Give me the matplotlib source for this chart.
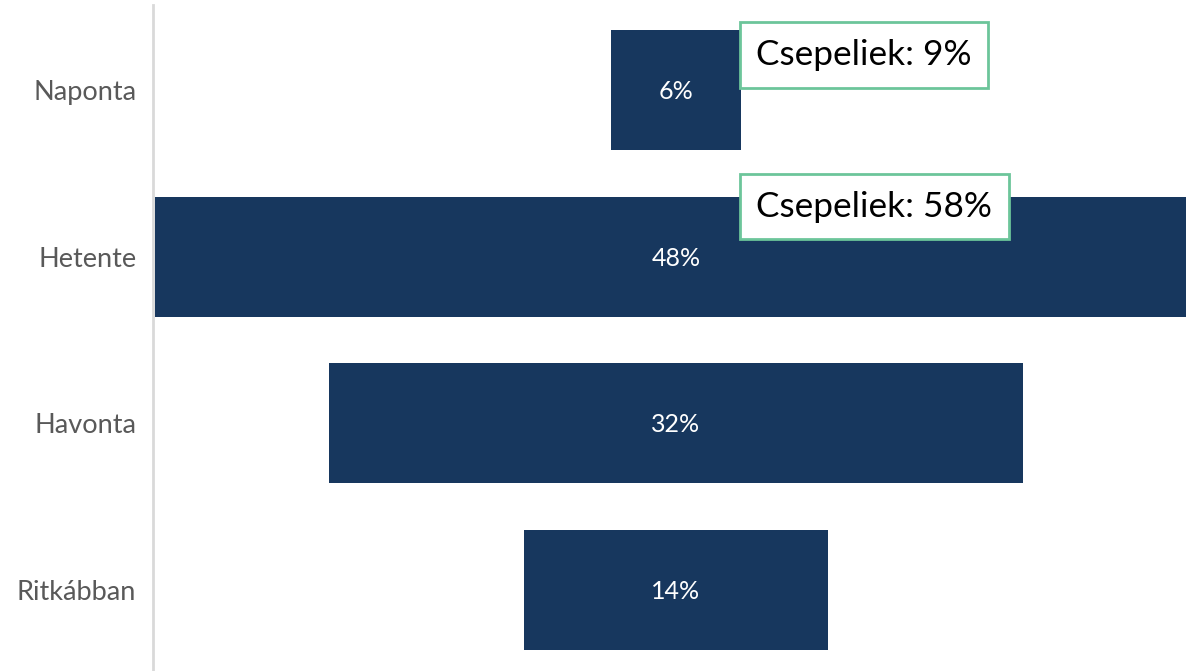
import matplotlib.pyplot as plt

categories = ['Naponta', 'Hetente', 'Havonta', 'Ritkábban']
values = [6, 48, 32, 14]
bar_labels = ['6%', '48%', '32%', '14%']
notes = ['Csepeliek: 9%', 'Csepeliek: 58%']
note_rows = [0, 1]

plt.rcParams['font.family'] = ['Lato', 'DejaVu Sans']

fig = plt.figure(figsize=(11.86, 6.71), dpi=100)
ax = fig.add_axes([153 / 1186, 0, 1 - 153 / 1186, 666 / 671])

ypos = list(range(len(categories)))
lefts = [-v / 2 for v in values]
ax.barh(ypos, values, left=lefts, height=0.72, color='#17375E')

for y, lab in zip(ypos, bar_labels):
    ax.text(0, y + 0.01, lab, ha='center', va='center', color='white', fontsize=18)

offsets = [-0.21, -0.3]
for r, txt, off in zip(note_rows, notes, offsets):
    ax.text(3.7, r + off, txt, ha='left', va='center', fontsize=25.3, color='black',
            bbox=dict(boxstyle='square,pad=0.47', facecolor='white',
                      edgecolor='#6CC59A', linewidth=2))

ax.set_xlim(-24.1, 23.5)
ax.set_ylim(3.486, -0.51)
ax.set_yticks(ypos)
ax.set_yticklabels(categories, fontsize=19.5, color='#595959')
ax.tick_params(axis='y', length=0, pad=12)
ax.set_xticks([])
for s in ['top', 'right', 'bottom']:
    ax.spines[s].set_visible(False)
ax.spines['left'].set_color('#D9D9D9')
ax.spines['left'].set_linewidth(2)

fig.savefig('out.png', dpi=100)
